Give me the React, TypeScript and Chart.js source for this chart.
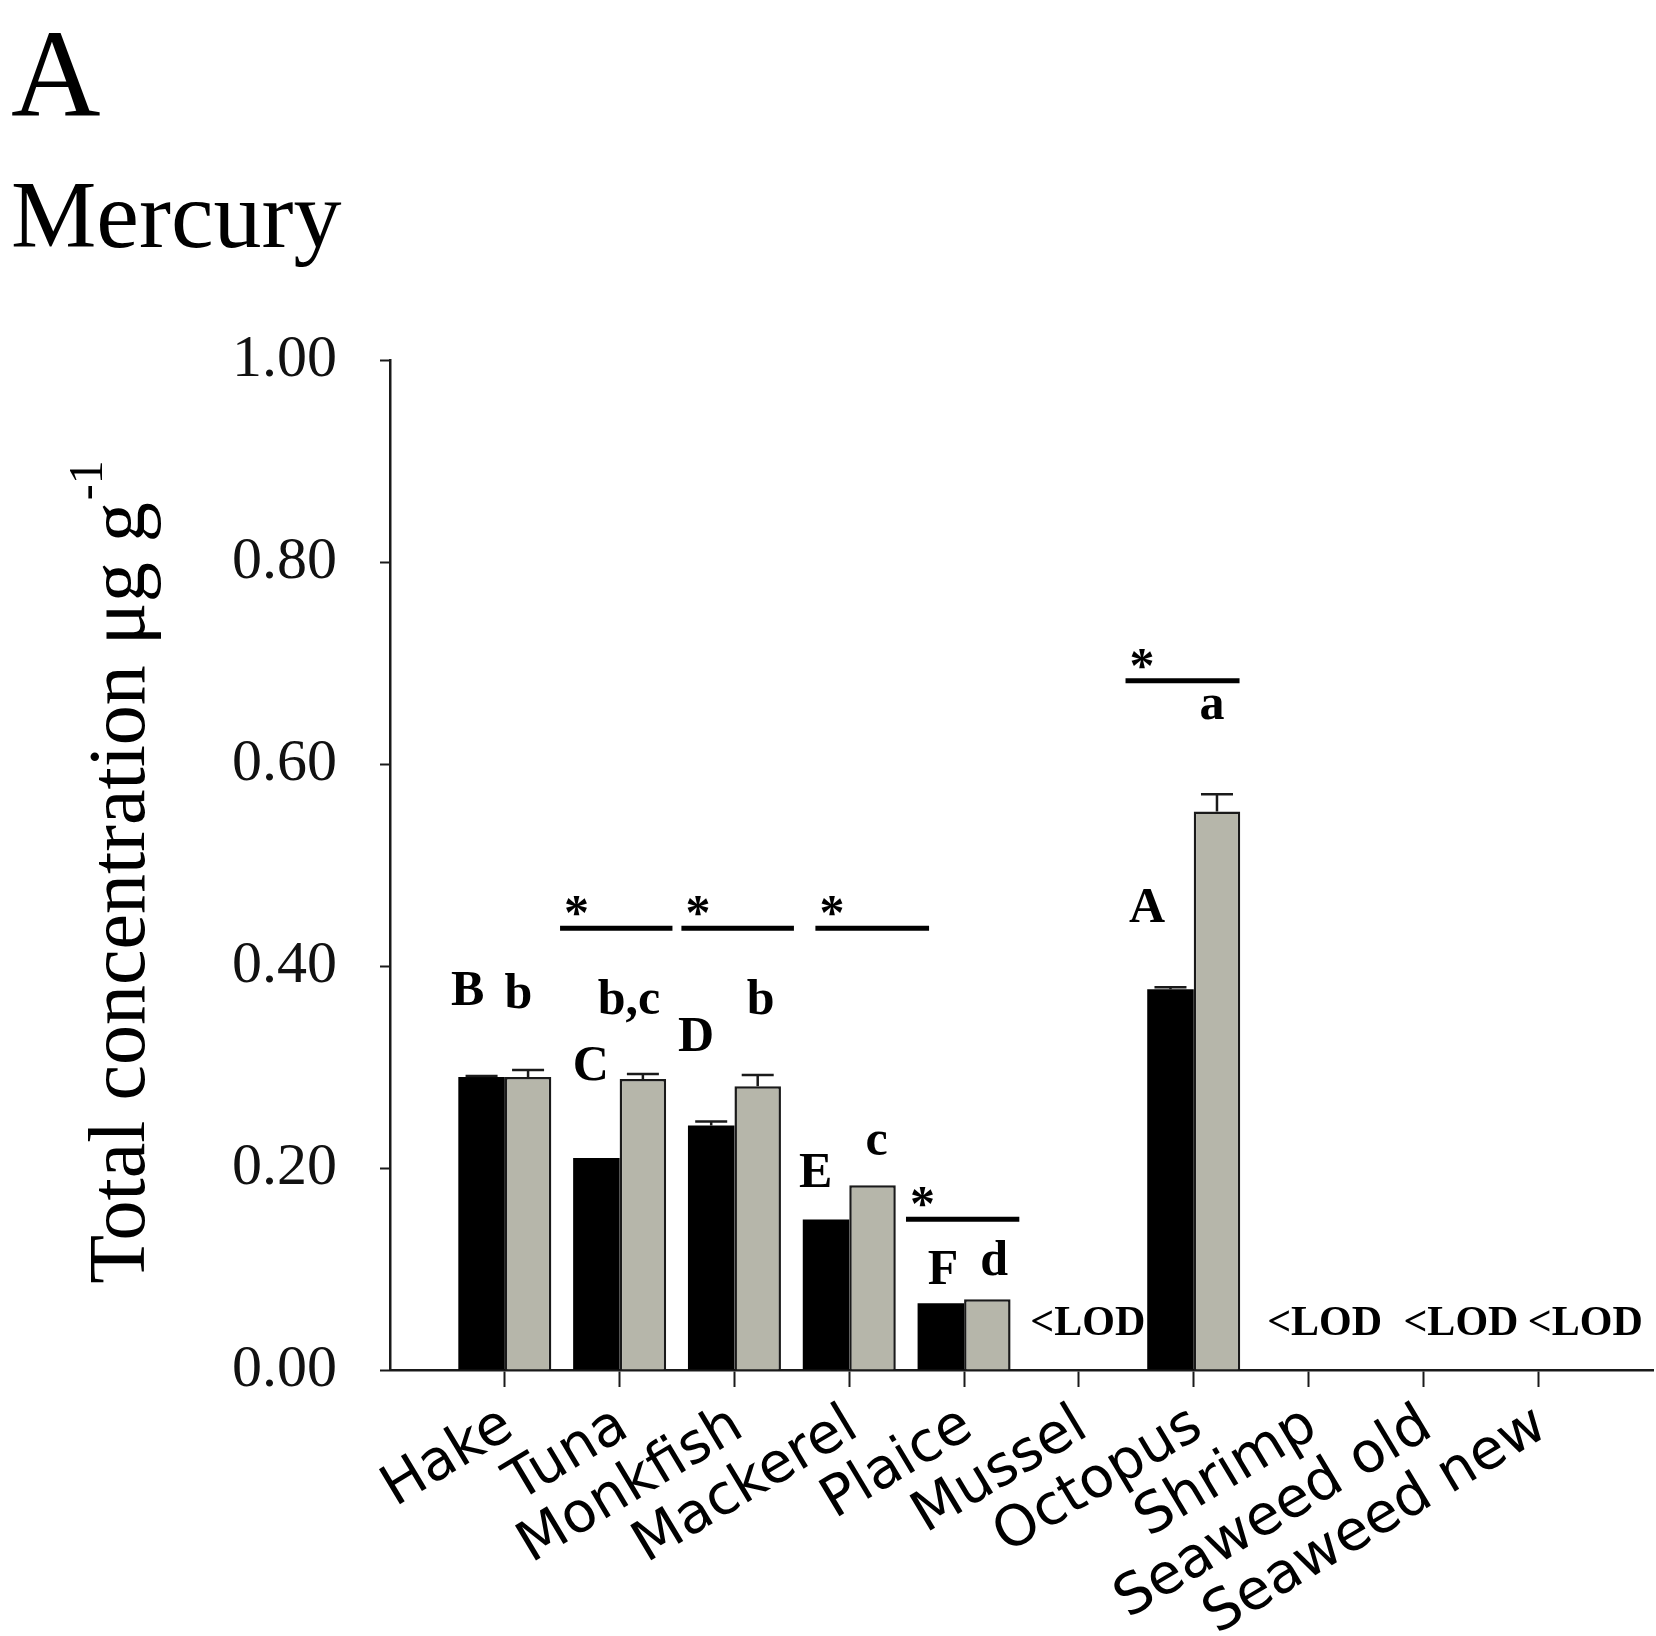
import React, { useEffect, useRef } from 'react';
import { Chart, registerables } from 'chart.js';

Chart.register(...registerables);

// Sample categories (one tick each on the x axis)
const categories = ['Hake', 'Tuna', 'Monkfish', 'Mackerel', 'Plaice', 'Mussel', 'Octopus', 'Shrimp', 'Seaweed old', 'Seaweed new'];

// Mean total mercury (µg g-1) and error for the dark and light series; null = below LOD
const darkValues = [0.290, 0.210, 0.242, 0.149, 0.066, null, 0.377, null, null, null];
const darkErrors = [0.001, 0, 0.004, 0, 0, null, 0.002, null, null, null];
const lightValues = [0.290, 0.288, 0.281, 0.183, 0.070, null, 0.553, null, null, null];
const lightErrors = [0.007, 0.005, 0.011, 0, 0, null, 0.017, null, null, null];

const yTickValues = [0, 0.2, 0.4, 0.6, 0.8, 1.0];

// Axis positions: an empty slot on each side of the ten categories
const axisLabels = ['', ...categories, ''];

// Group letters, placed on the category axis (Hake = 1) at a value height
const groupLetters = [
  { text: 'B', at: 0.676, value: 0.361 },
  { text: 'b', at: 1.118, value: 0.358 },
  { text: 'C', at: 1.748, value: 0.287 },
  { text: 'b,c', at: 2.082, value: 0.352 },
  { text: 'D', at: 2.666, value: 0.316 },
  { text: 'b', at: 3.228, value: 0.352 },
  { text: 'E', at: 3.708, value: 0.181 },
  { text: 'c', at: 4.238, value: 0.213 },
  { text: 'F', at: 4.817, value: 0.085 },
  { text: 'd', at: 5.261, value: 0.094 },
  { text: 'A', at: 6.594, value: 0.444 },
  { text: 'a', at: 7.160, value: 0.645 },
];

// Significance bars with an asterisk
const significance = [
  { from: 1.481, to: 2.460, value: 0.4375 },
  { from: 2.538, to: 3.518, value: 0.4375 },
  { from: 3.705, to: 4.695, value: 0.4375 },
  { from: 4.494, to: 5.481, value: 0.1493 },
  { from: 6.406, to: 7.399, value: 0.6824 },
];

// Below limit of detection labels
const lodLabels = [
  { at: 6.077, value: 0.0348 },
  { at: 8.140, value: 0.0348 },
  { at: 9.327, value: 0.0348 },
  { at: 10.410, value: 0.0348 },
];

const SERIF = '"Liberation Serif", "Times New Roman", serif';
const INK = '#1a1a1a';

const pad = (arr: (number | null)[]) => [null, ...arr, null];

const overlayPlugin = {
  id: 'overlay',
  afterDatasetsDraw(chart: any) {
    const { ctx } = chart;
    const xs = chart.scales.x;
    const ys = chart.scales.y;

    // error bars
    const sets = [
      { vals: pad(darkValues), errs: pad(darkErrors) },
      { vals: pad(lightValues), errs: pad(lightErrors) },
    ];
    ctx.save();
    ctx.strokeStyle = INK;
    ctx.lineWidth = 2.5;
    sets.forEach((s, di) => {
      const meta = chart.getDatasetMeta(di);
      meta.data.forEach((bar: any, i: number) => {
        const v = s.vals[i];
        const e = s.errs[i];
        if (v == null || !e) return;
        const top = ys.getPixelForValue(v + e);
        ctx.beginPath();
        ctx.moveTo(bar.x, bar.y);
        ctx.lineTo(bar.x, top);
        ctx.moveTo(bar.x - 16, top);
        ctx.lineTo(bar.x + 16, top);
        ctx.stroke();
      });
    });
    ctx.restore();

    ctx.save();
    ctx.fillStyle = '#000';
    ctx.textBaseline = 'alphabetic';

    // group letters
    ctx.font = `bold 50px ${SERIF}`;
    ctx.textAlign = 'center';
    groupLetters.forEach((g) => {
      ctx.fillText(g.text, xs.getPixelForValue(g.at), ys.getPixelForValue(g.value));
    });

    // significance bars
    ctx.strokeStyle = '#000';
    ctx.lineWidth = 5;
    ctx.textAlign = 'left';
    significance.forEach((s) => {
      const x0 = xs.getPixelForValue(s.from);
      const x1 = xs.getPixelForValue(s.to);
      const y = ys.getPixelForValue(s.value);
      ctx.beginPath();
      ctx.moveTo(x0, y);
      ctx.lineTo(x1, y);
      ctx.stroke();
      ctx.fillText('*', x0 + 4, y + 1);
    });

    // <LOD labels
    ctx.font = `bold 42px ${SERIF}`;
    ctx.textAlign = 'center';
    lodLabels.forEach((l) => {
      ctx.fillText('<LOD', xs.getPixelForValue(l.at), ys.getPixelForValue(l.value));
    });
    ctx.restore();
  },
  afterDraw(chart: any) {
    const { ctx, chartArea } = chart;
    ctx.save();
    ctx.fillStyle = '#000';
    ctx.textBaseline = 'alphabetic';
    ctx.textAlign = 'left';

    // panel letter and element name
    ctx.font = `124px ${SERIF}`;
    ctx.fillText('A', 11, 116);
    ctx.font = `96px ${SERIF}`;
    ctx.fillText('Mercury', 11, 247);

    // y axis title with superscript unit
    const main = 'Total concentration μg g';
    const sup = '-1';
    ctx.font = `80px ${SERIF}`;
    const wMain = ctx.measureText(main).width;
    ctx.font = `48px ${SERIF}`;
    const wSup = ctx.measureText(sup).width;
    const total = wMain + wSup;
    const cy = (chartArea.top + chartArea.bottom) / 2 + 8;
    ctx.translate(chartArea.left - 246, cy);
    ctx.rotate(-Math.PI / 2);
    ctx.font = `80px ${SERIF}`;
    ctx.fillText(main, -total / 2, 0);
    ctx.font = `48px ${SERIF}`;
    ctx.fillText(sup, -total / 2 + wMain + 2, -42);
    ctx.restore();
  },
};

export default function App() {
  const canvasRef = useRef<HTMLCanvasElement | null>(null);

  useEffect(() => {
    document.body.style.margin = '0';
    document.body.style.background = '#fff';
    const canvas = canvasRef.current;
    if (!canvas) return;

    const chart = new Chart(canvas, {
      type: 'bar',
      data: {
        labels: axisLabels,
        datasets: [
          {
            label: 'dark',
            data: pad(darkValues),
            backgroundColor: '#000000',
            borderColor: '#000000',
            borderWidth: 0,
            categoryPercentage: 0.81,
            barPercentage: 1.0,
          },
          {
            label: 'light',
            data: pad(lightValues),
            backgroundColor: '#b6b6aa',
            borderColor: INK,
            borderWidth: 2.5,
            categoryPercentage: 0.81,
            barPercentage: 1.0,
          },
        ],
      },
      options: {
        responsive: false,
        animation: false,
        devicePixelRatio: 1,
        layout: { padding: { top: 360, right: 3, left: 0, bottom: 0 } },
        plugins: {
          legend: { display: false },
          tooltip: { enabled: false },
          title: { display: false },
        },
        scales: {
          x: {
            type: 'category',
            offset: false,
            grid: {
              offset: false,
              drawOnChartArea: false,
              drawTicks: true,
              tickLength: 17,
              tickWidth: 2,
              tickColor: (c: any) => (c.index === 0 || c.index === axisLabels.length - 1 ? 'rgba(0,0,0,0)' : INK),
            },
            border: { display: true, color: INK, width: 2.5 },
            ticks: {
              autoSkip: false,
              minRotation: 31,
              maxRotation: 31,
              padding: 6,
              labelOffset: 4,
              color: '#000',
              font: { family: '"DejaVu Sans", Verdana, sans-serif', size: 56 },
            },
            afterFit: (s: any) => {
              s.height = 266;
              s.paddingLeft = 0;
              s.paddingRight = 0;
            },
          },
          y: {
            min: 0,
            max: 1,
            afterBuildTicks: (s: any) => {
              s.ticks = yTickValues.map((v) => ({ value: v }));
            },
            grid: {
              drawOnChartArea: false,
              drawTicks: true,
              tickLength: 10,
              tickWidth: 2,
              tickColor: INK,
            },
            border: { display: true, color: INK, width: 2.5 },
            ticks: {
              padding: 43,
              color: '#111',
              font: { family: SERIF, size: 60 },
              callback: (v: any) => Number(v).toFixed(2),
            },
            afterFit: (s: any) => {
              s.width = 390;
              s.paddingTop = 0;
              s.paddingBottom = 0;
            },
          },
        },
      },
      plugins: [overlayPlugin],
    });

    return () => chart.destroy();
  }, []);

  return (
    <canvas
      ref={canvasRef}
      width={1656}
      height={1636}
      style={{ display: 'block', width: 1656, height: 1636 }}
    />
  );
}
